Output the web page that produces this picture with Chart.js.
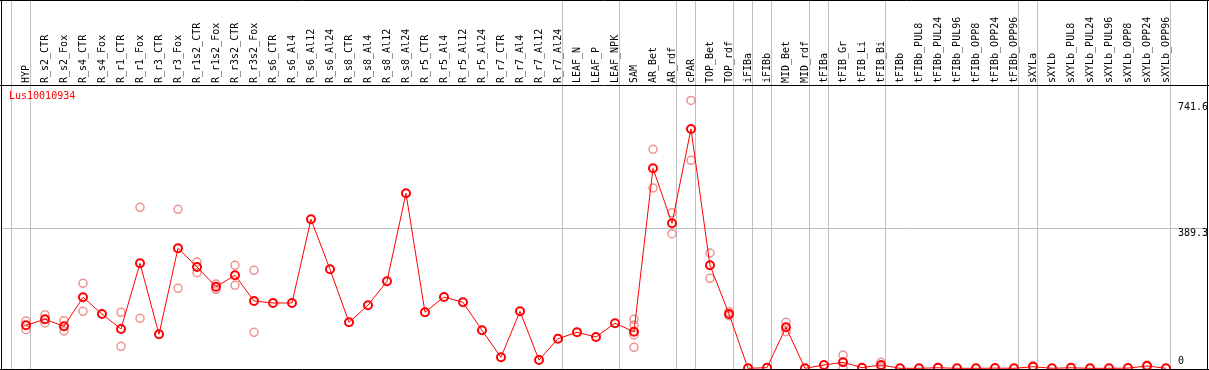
<!DOCTYPE html>
<html>
<head>
<meta charset="utf-8">
<script src="https://cdn.jsdelivr.net/npm/chart.js@4/dist/chart.umd.min.js"></script>
<style>
  html, body { margin: 0; padding: 0; background: #fff; }
  #grafico { display: block; }
</style>
</head>
<body>
<canvas id="grafico" width="1209" height="370"></canvas>
<script>
// gene shown in the top left corner
const geneName = 'Lus10010934';

// tissue / treatment categories, in plot order
const categories = [
  'HYP', 'R_s2_CTR', 'R_s2_Fox', 'R_s4_CTR', 'R_s4_Fox', 'R_r1_CTR', 'R_r1_Fox', 'R_r3_CTR', 'R_r3_Fox',
  'R_r1s2_CTR', 'R_r1s2_Fox', 'R_r3s2_CTR', 'R_r3s2_Fox', 'R_s6_CTR', 'R_s6_Al4', 'R_s6_Al12', 'R_s6_Al24',
  'R_s8_CTR', 'R_s8_Al4', 'R_s8_Al12', 'R_s8_Al24', 'R_r5_CTR', 'R_r5_Al4', 'R_r5_Al12', 'R_r5_Al24',
  'R_r7_CTR', 'R_r7_Al4', 'R_r7_Al12', 'R_r7_Al24', 'LEAF_N', 'LEAF_P', 'LEAF_NPK', 'SAM', 'AR_Bet', 'AR_rdf',
  'cPAR', 'TOP_Bet', 'TOP_rdf', 'iFIBa', 'iFIBb', 'MID_Bet', 'MID_rdf', 'tFIBa', 'tFIB_Gr', 'tFIB_Li', 'tFIB_Bi',
  'tFIBb', 'tFIBb_PUL8', 'tFIBb_PUL24', 'tFIBb_PUL96', 'tFIBb_OPP8', 'tFIBb_OPP24', 'tFIBb_OPP96',
  'sXYLa', 'sXYLb', 'sXYLb_PUL8', 'sXYLb_PUL24', 'sXYLb_PUL96', 'sXYLb_OPP8', 'sXYLb_OPP24', 'sXYLb_OPP96'
];

// mean expression per category
const means = [
  119.6, 136.3, 116.8, 197.4, 151.0, 109.3, 292.0, 94.5, 333.7, 281.7,
  226.9, 258.6, 187.2, 181.6, 181.6, 414.3, 275.3, 127.9, 175.2, 241.9,
  486.7, 155.7, 198.3, 183.5, 105.7, 30.6, 158.5, 23.1, 82.3, 100.1,
  87.0, 125.1, 101.8, 556.2, 403.2, 665.5, 286.4, 151.0, 0, 1.7,
  114.0, 0, 9.2, 16.7, 1.7, 9.2, 0, 0, 1.5, 0,
  0, 0.5, 0, 4.4, 0, 1.5, 0, 0, 0.5, 6.4, 0
];

// individual replicates per category (empty = hidden under the mean)
const replicates = [
  [131.5, 107.3], [149.1, 126.0], [132.4, 103.7], [236.4, 158.5], [], [155.7, 61.2], [447.7, 139.0], [],
  [442.2, 222.5], [295.6, 265.9], [234.4, 219.7], [286.4, 230.8], [272.5, 100.1], [], [], [], [],
  [], [], [], [], [], [], [], [], [], [], [], [], [], [], [],
  [136.3, 120.4, 92.6, 58.4], [609.0, 501.4], [432.7, 374.3], [745.0, 578.4], [320.6, 250.3], [157.4, 146.3],
  [], [], [127.9, 101.8], [], [], [37.0, 0], [], [16.7, 4.4],
  [], [], [2.5], [], [], [], [], [7.0], [], [], [], [], [], [9.0], []
];

// last category index of each group (separator drawn after it)
const groupEnds = [-1, 0, 28, 31, 34, 35, 37, 38, 39, 41, 42, 45, 52, 53, 60];

// y labels on the right and the horizontal grid line
const yTicks = [741.6, 389.3, 0];
const yGrid = [389.3];

const fonte = '10px "DejaVu Sans Mono", monospace';

const pontosMedia = means.map((v, i) => ({ x: i, y: v }));
const pontosRep = [];
replicates.forEach((lista, i) => lista.forEach(v => pontosRep.push({ x: i, y: v })));

const moldura = {
  id: 'moldura',
  beforeDatasetsDraw(chart) {
    const ctx = chart.ctx;
    const sx = chart.scales.x;
    const sy = chart.scales.y;
    const W = chart.width;
    ctx.save();
    ctx.lineWidth = 1;
    ctx.strokeStyle = '#c0c0c0';
    groupEnds.forEach(g => {
      const px = Math.floor(sx.getPixelForValue(g + 0.25)) + 0.5;
      ctx.beginPath();
      ctx.moveTo(px, 0);
      ctx.lineTo(px, 369);
      ctx.stroke();
    });
    yGrid.forEach(v => {
      const py = Math.floor(sy.getPixelForValue(v)) + 0.5;
      ctx.beginPath();
      ctx.moveTo(2, py);
      ctx.lineTo(W - 2, py);
      ctx.stroke();
    });

    // black frame + header separator
    ctx.strokeStyle = '#000';
    ctx.beginPath();
    ctx.moveTo(0, 0.5); ctx.lineTo(W, 0.5);
    ctx.moveTo(0, 85.5); ctx.lineTo(W, 85.5);
    ctx.moveTo(0, 369.5); ctx.lineTo(W, 369.5);
    ctx.moveTo(1.5, 0); ctx.lineTo(1.5, 370);
    ctx.moveTo(W - 1.5, 0); ctx.lineTo(W - 1.5, 370);
    ctx.stroke();
    ctx.restore();
  },
  afterDatasetsDraw(chart) {
    const ctx = chart.ctx;
    const sx = chart.scales.x;
    const sy = chart.scales.y;
    ctx.save();
    ctx.font = fonte;
    ctx.fillStyle = '#000';

    // rotated category names in the header
    categories.forEach((nome, i) => {
      const px = Math.round(sx.getPixelForValue(i));
      ctx.save();
      ctx.translate(px, 83);
      ctx.rotate(-Math.PI / 2);
      ctx.textAlign = 'left';
      ctx.textBaseline = 'middle';
      ctx.fillText(nome, 0, 0);
      ctx.restore();
    });

    // value labels on the right
    ctx.textAlign = 'left';
    yTicks.forEach(v => {
      const py = sy.getPixelForValue(v);
      if (v === 0) {
        ctx.textBaseline = 'bottom';
        ctx.fillText(String(v), 1178, py - 2);
      } else {
        ctx.textBaseline = 'top';
        ctx.fillText(String(v), 1178, py + 0.5);
      }
    });

    ctx.fillStyle = '#ff0000';
    ctx.textBaseline = 'top';
    ctx.fillText(geneName, 9, 91);
    ctx.restore();
  }
};

const grafico = new Chart(document.getElementById('grafico'), {
  type: 'line',
  data: {
    datasets: [
      {
        label: 'media',
        data: pontosMedia,
        borderColor: '#ff0000',
        borderWidth: 1,
        pointRadius: 4,
        pointBorderWidth: 2,
        pointBorderColor: '#ff0000',
        pointBackgroundColor: 'rgba(0,0,0,0)',
        tension: 0,
        order: 1
      },
      {
        label: 'replicas',
        data: pontosRep,
        showLine: false,
        pointRadius: 4,
        pointBorderWidth: 1.5,
        pointBorderColor: 'rgba(232,110,110,0.75)',
        pointBackgroundColor: 'rgba(0,0,0,0)',
        order: 2
      }
    ]
  },
  options: {
    responsive: false,
    devicePixelRatio: 1,
    animation: false,
    layout: { autoPadding: false, padding: { top: 86, left: 2, right: 2, bottom: 1 } },
    plugins: { legend: { display: false }, tooltip: { enabled: false } },
    scales: {
      x: { type: 'linear', min: -1.263, max: 62.158, display: false },
      y: { type: 'linear', min: -1.95, max: 785, display: false }
    }
  },
  plugins: [moldura]
});
</script>
</body>
</html>
